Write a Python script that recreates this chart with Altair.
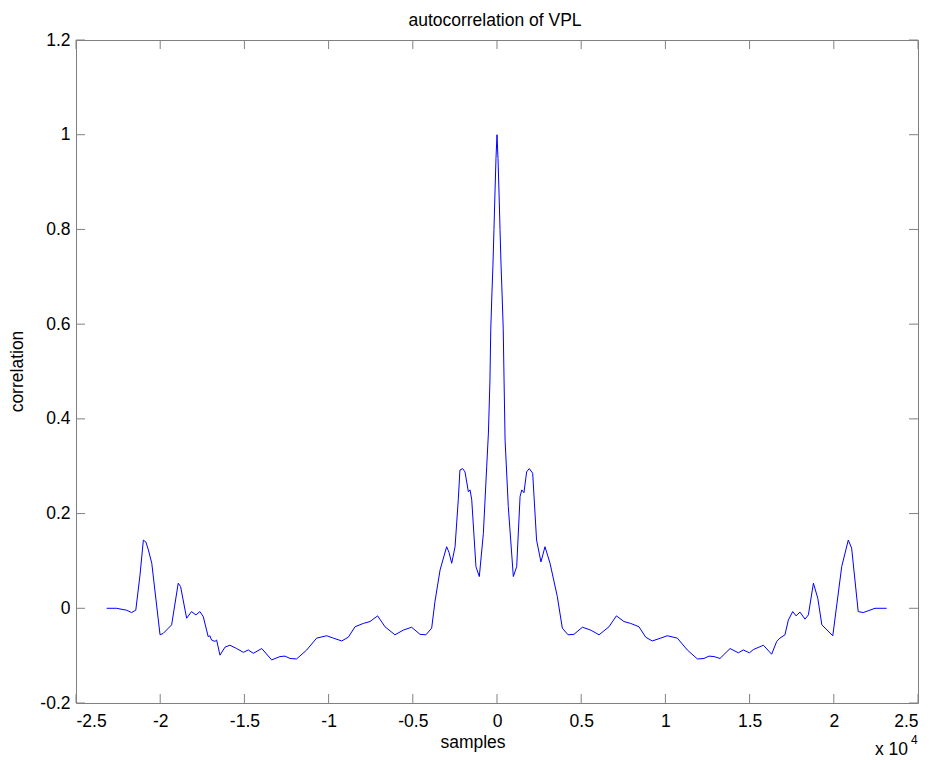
import altair as alt
import pandas as pd

# ---- curve data (lag in units of 1e4 samples, correlation) ----
lag = [
    -2.318, -2.26, -2.20, -2.17, -2.145, -2.12, -2.10, -2.085, -2.07, -2.05,
    -2.001, -1.982, -1.932, -1.893, -1.879, -1.843, -1.814, -1.788, -1.764, -1.744,
    -1.715, -1.705, -1.695, -1.675, -1.665, -1.645, -1.615, -1.586, -1.546, -1.506,
    -1.477, -1.447, -1.397, -1.338, -1.289, -1.259, -1.229, -1.190, -1.130, -1.071,
    -1.011, -0.972, -0.922, -0.883, -0.843, -0.794, -0.754, -0.709, -0.665, -0.606,
    -0.556, -0.507, -0.457, -0.422, -0.388, -0.368, -0.338, -0.299, -0.285, -0.269,
    -0.249, -0.230, -0.220, -0.204, -0.190, -0.170, -0.160, -0.150, -0.125, -0.105,
    -0.081, -0.061, -0.051, -0.042, -0.037, -0.030, -0.024, -0.018, -0.012, -0.006,
    0.0,
    0.006, 0.012, 0.018, 0.024, 0.030, 0.037, 0.042, 0.048, 0.067, 0.097,
    0.117, 0.137, 0.147, 0.160, 0.176, 0.192, 0.212, 0.235, 0.261, 0.285,
    0.315, 0.358, 0.388, 0.422, 0.457, 0.507, 0.556, 0.606, 0.665, 0.709,
    0.754, 0.794, 0.843, 0.883, 0.922, 0.972, 1.011, 1.071, 1.130, 1.190,
    1.229, 1.259, 1.289, 1.324, 1.384, 1.433, 1.463, 1.499, 1.523, 1.582,
    1.631, 1.661, 1.680, 1.710, 1.730, 1.756, 1.776, 1.799, 1.829, 1.849,
    1.879, 1.905, 1.929, 1.994, 2.047, 2.086, 2.106, 2.145, 2.175, 2.245,
    2.314,
]
corr = [
    0.0, 0.0, -0.004, -0.009, -0.004, 0.07, 0.144, 0.14, 0.123, 0.095,
    -0.056, -0.053, -0.035, 0.053, 0.046, -0.021, -0.007, -0.014, -0.007, -0.018,
    -0.060, -0.058, -0.067, -0.070, -0.067, -0.099, -0.082, -0.078, -0.085, -0.093,
    -0.088, -0.095, -0.085, -0.109, -0.102, -0.101, -0.106, -0.107, -0.088, -0.063,
    -0.058, -0.063, -0.069, -0.061, -0.039, -0.032, -0.028, -0.016, -0.039, -0.056,
    -0.046, -0.040, -0.055, -0.056, -0.042, 0.015, 0.081, 0.130, 0.118, 0.095,
    0.130, 0.229, 0.292, 0.295, 0.288, 0.246, 0.250, 0.229, 0.088, 0.067,
    0.158, 0.30, 0.37, 0.48, 0.59, 0.666, 0.725, 0.80, 0.877, 0.95,
    1.0,
    0.95, 0.877, 0.80, 0.725, 0.666, 0.59, 0.48, 0.355, 0.215, 0.067,
    0.088, 0.236, 0.250, 0.244, 0.288, 0.295, 0.285, 0.144, 0.098, 0.130,
    0.095, 0.025, -0.042, -0.056, -0.055, -0.040, -0.046, -0.056, -0.039, -0.016,
    -0.028, -0.032, -0.039, -0.061, -0.069, -0.063, -0.058, -0.063, -0.088, -0.107,
    -0.106, -0.101, -0.102, -0.106, -0.085, -0.094, -0.088, -0.094, -0.087, -0.078,
    -0.097, -0.070, -0.063, -0.056, -0.025, -0.007, -0.016, -0.008, -0.023, -0.014,
    0.053, 0.021, -0.035, -0.058, 0.088, 0.144, 0.127, -0.007, -0.009, 0.0,
    0.0,
]

x_ticks = [-2.5, -2, -1.5, -1, -0.5, 0, 0.5, 1, 1.5, 2, 2.5]
y_ticks = [-0.2, 0, 0.2, 0.4, 0.6, 0.8, 1, 1.2]

W, H = 842, 663
FONT = "Liberation Sans"
FS = 17.5
TICK = 9
GRAY = "#808080"

df = pd.DataFrame({"lag": lag, "corr": corr})
xt = pd.DataFrame({"v": x_ticks})
yt = pd.DataFrame({"v": y_ticks})

xscale = alt.Scale(domain=[-2.5, 2.5], nice=False, zero=False)
yscale = alt.Scale(domain=[-0.2, 1.2], nice=False, zero=False)

label_expr = "'' + datum.value"

line = alt.Chart(df).mark_line(color="#0000ff", strokeWidth=1, interpolate="linear").encode(
    x=alt.X("lag:Q", scale=xscale,
            axis=alt.Axis(values=x_ticks, labelExpr=label_expr, title=None, domain=False,
                          ticks=False, tickSize=0, grid=False, labelPadding=9,
                          labelFont=FONT, labelFontSize=FS, labelColor="black")),
    y=alt.Y("corr:Q", scale=yscale,
            axis=alt.Axis(values=y_ticks, labelExpr=label_expr, title=None, domain=False,
                          ticks=False, tickSize=0, grid=False, labelPadding=6,
                          labelFont=FONT, labelFontSize=FS, labelColor="black")),
)

# inward tick marks on all four sides (MATLAB box style)
xt_bottom = alt.Chart(xt).mark_rule(color=GRAY, strokeWidth=1).encode(
    x=alt.X("v:Q", scale=xscale), y=alt.value(H), y2=alt.value(H - TICK))
xt_top = alt.Chart(xt).mark_rule(color=GRAY, strokeWidth=1).encode(
    x=alt.X("v:Q", scale=xscale), y=alt.value(0), y2=alt.value(TICK))
yt_left = alt.Chart(yt).mark_rule(color=GRAY, strokeWidth=1).encode(
    y=alt.Y("v:Q", scale=yscale), x=alt.value(0), x2=alt.value(TICK))
yt_right = alt.Chart(yt).mark_rule(color=GRAY, strokeWidth=1).encode(
    y=alt.Y("v:Q", scale=yscale), x=alt.value(W), x2=alt.value(W - TICK))

title = alt.Chart(pd.DataFrame({"t": ["autocorrelation of VPL"]})).mark_text(
    font=FONT, fontSize=FS, color="black", align="center", baseline="alphabetic"
).encode(text="t:N", x=alt.value(419), y=alt.value(-14))

xlabel = alt.Chart(pd.DataFrame({"t": ["samples"]})).mark_text(
    font=FONT, fontSize=FS, color="black", align="center", baseline="alphabetic"
).encode(text="t:N", x=alt.value(397), y=alt.value(708))

ylabel = alt.Chart(pd.DataFrame({"t": ["correlation"]})).mark_text(
    font=FONT, fontSize=FS, color="black", align="center", baseline="middle", angle=270
).encode(text="t:N", x=alt.value(-58), y=alt.value(331.5))

mult = alt.Chart(pd.DataFrame({"t": ["x 10"]})).mark_text(
    font=FONT, fontSize=FS, color="black", align="left", baseline="alphabetic"
).encode(text="t:N", x=alt.value(799), y=alt.value(715))

expo = alt.Chart(pd.DataFrame({"t": ["4"]})).mark_text(
    font=FONT, fontSize=12, color="black", align="left", baseline="alphabetic"
).encode(text="t:N", x=alt.value(835), y=alt.value(704))

chart = alt.layer(
    line, xt_bottom, xt_top, yt_left, yt_right, title, xlabel, ylabel, mult, expo
).properties(
    width=W, height=H,
    autosize=alt.AutoSizeParams(type="none"),
    padding={"left": 76, "top": 40, "right": 18, "bottom": 57},
    background="white",
).configure_view(stroke=GRAY, strokeWidth=1)

chart.save("out.html", embed_options={"renderer": "svg", "actions": False})
